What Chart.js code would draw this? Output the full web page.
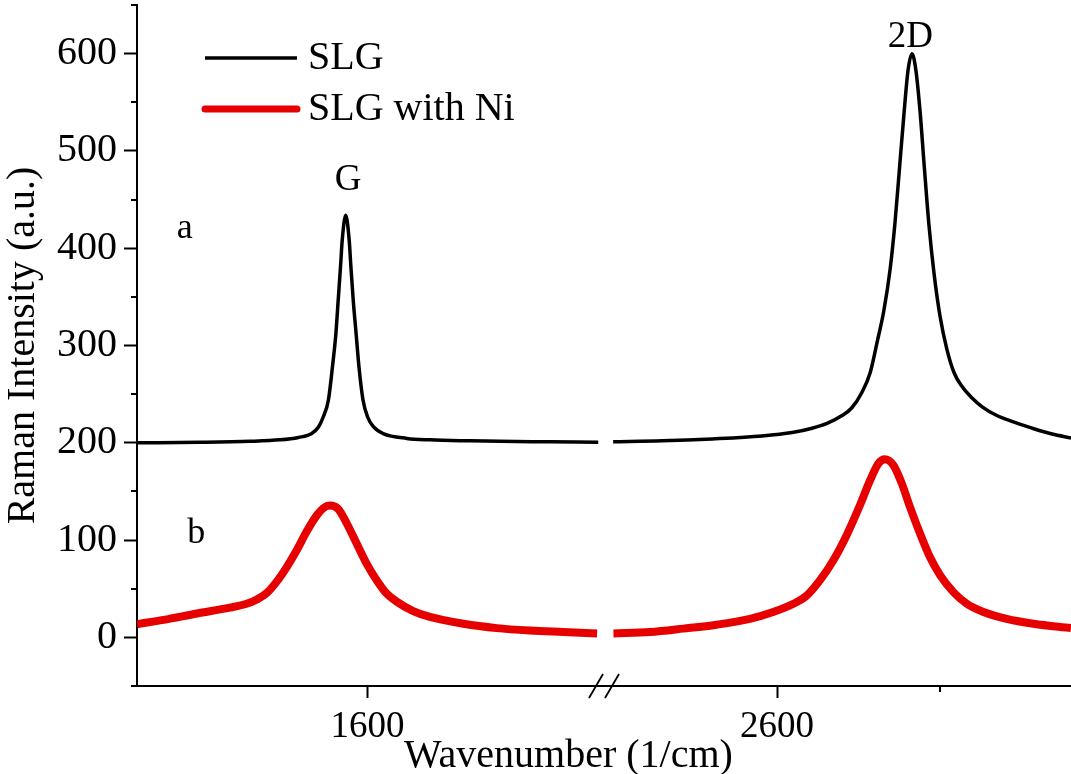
<!DOCTYPE html>
<html><head><meta charset="utf-8">
<script src="https://cdn.jsdelivr.net/npm/chart.js@4.4.1/dist/chart.umd.min.js"></script>
<style>html,body{margin:0;padding:0;background:#fff}#wrap{width:1071px;height:774px;position:relative}</style>
</head><body><div id="wrap"><canvas id="c"></canvas></div>
<script>
// ---- data (wavenumber in 1/cm, intensity in a.u.) ----
const seriesNames = ['SLG', 'SLG with Ni'];

// left part of broken axis (G band)
const slgLeftWn = [1200,1309,1396,1448,1480,1503,1515,1523,1532,1539,1545,1549,1553,1556,1562,1568,1571,1575,1580,1585,1592,1600,1610,1627,1668,1708,1778,1830,1916,2000];
const slgLeftI  = [200,200.5,201.5,203,205.5,209.5,216.5,226.5,244,278,312.5,347,381,408.5,434,408.5,381,347,312.5,278,244,226.5,216.5,209.5,204.5,203,202,201.5,201,200.5];
const niLeftWn  = [1200,1246,1304,1361,1390,1408,1425,1442,1460,1477,1494,1512,1526,1535,1549,1564,1581,1598,1616,1633,1651,1679,1708,1766,1824,1882,1939,1998];
const niLeftI   = [13.5,18,24.5,30.5,34.5,39,45.5,57,72.5,89.5,108.5,125.5,134,135.5,132,117,96.5,76,58.5,45,36.5,27,21,14,9.5,7,5.5,4];

// right part of broken axis (2D band)
const slgRightWn = [2098,2248,2401,2554,2646,2707,2753,2799,2829,2860,2885,2906,2927,2946,2961,2976,2989,3001,3013,3025,3038,3050,3065,3081,3099,3120,3142,3166,3197,3228,3273,3319,3381,3442,3500];
const slgRightI  = [201,202,204,207,210.5,215,220,228,236,252,272,303,336,378,426,487,540,583,600,583,540,487,424,373,330,296,272,258,246,237,228,222,215,209,205];
const niRightWn  = [2099,2211,2313,2415,2517,2588,2650,2691,2731,2772,2813,2854,2885,2910,2930,2956,2982,3007,3038,3068,3099,3140,3181,3232,3303,3385,3500];
const niRightI   = [4,5.5,9,13,19,26,34.5,43,58.5,79,105,136,161.5,178.5,183,177,158,134,106.5,82.5,64,46.5,34.5,26,19,14,9.5];

// axes
const xLeftRange = [1200, 2010];
const xRightRange = [2070, 3500];
const xLeftTicks = [1600];
const xRightTicks = [2600];
const xRightMinor = [3100];
const yRange = [-50, 650];
const yTicks = [0, 100, 200, 300, 400, 500, 600];
const yMinor = [-50, 50, 150, 250, 350, 450, 550, 650];

// peak / curve annotations
const noteText = ['G', '2D', 'a', 'b'];
const noteAxis = ['xL', 'xR', 'xL', 'xL'];
const noteWn   = [1566, 3008, 1269, 1287];
const noteI    = [460, 607, 410.5, 96.5];

const FONT = "'Liberation Serif', 'Times New Roman', serif";
const BLACK = '#000000';
const RED = '#e60000';

const pts = (xs, ys) => xs.map((x, i) => ({x, y: ys[i]}));

const decor = {
  id: 'decor',
  afterDraw(chart) {
    const ctx = chart.ctx;
    const {xL, xR, y} = chart.scales;
    const area = chart.chartArea;
    ctx.save();
    ctx.strokeStyle = BLACK;
    ctx.lineWidth = 2;
    // minor ticks
    yMinor.forEach(v => {
      const py = Math.round(y.getPixelForValue(v));
      ctx.beginPath(); ctx.moveTo(area.left - 6, py); ctx.lineTo(area.left, py); ctx.stroke();
    });
    xRightMinor.forEach(v => {
      const px = Math.round(xR.getPixelForValue(v));
      ctx.beginPath(); ctx.moveTo(px, area.bottom); ctx.lineTo(px, area.bottom + 6); ctx.stroke();
    });
    // axis break marks
    const bx = xL.right, by = area.bottom;
    ctx.lineWidth = 1.8;
    [-8, 8].forEach(off => {
      ctx.beginPath(); ctx.moveTo(bx + off - 7, by + 12); ctx.lineTo(bx + off + 7, by - 12); ctx.stroke();
    });
    // annotations
    ctx.fillStyle = BLACK;
    ctx.textBaseline = 'alphabetic';
    noteText.forEach((t, i) => {
      const sc = chart.scales[noteAxis[i]];
      const px = sc.getPixelForValue(noteWn[i]);
      const py = y.getPixelForValue(noteI[i]);
      ctx.font = (i < 2 ? '37px ' : '36px ') + FONT;
      ctx.textAlign = i < 2 ? 'center' : 'left';
      ctx.fillText(t, px, py);
    });
    // legend
    const seen = [];
    chart.data.datasets.forEach(ds => { if (!seen.find(s => s.label === ds.label)) seen.push(ds); });
    ctx.font = '40px ' + FONT;
    ctx.textAlign = 'left';
    ctx.textBaseline = 'middle';
    seen.forEach((ds, i) => {
      const ly = area.top + 53 + i * 51;
      ctx.strokeStyle = ds.borderColor;
      ctx.lineWidth = i === 0 ? 3.5 : 7;
      ctx.lineCap = i === 0 ? 'butt' : 'round';
      ctx.beginPath(); ctx.moveTo(area.left + 68, ly); ctx.lineTo(area.left + 160, ly); ctx.stroke();
      ctx.fillStyle = BLACK;
      ctx.fillText(ds.label, area.left + 171, ly);
    });
    // x-axis title
    ctx.font = '40px ' + FONT;
    ctx.textBaseline = 'alphabetic';
    ctx.textAlign = 'left';
    ctx.fillText('Wavenumber (1/cm)', 404, 767);
    ctx.restore();
  }
};

const xCommon = (range, ticks) => ({
  type: 'linear',
  position: 'bottom',
  stack: 'wn',
  stackWeight: 1,
  min: range[0], max: range[1],
  afterBuildTicks: s => { s.ticks = ticks.map(v => ({value: v})); },
  afterFit: s => { s.height = 88; s.paddingLeft = 0; s.paddingRight = 0; },
  grid: {drawOnChartArea: false, drawTicks: true, tickLength: 12, tickWidth: 2, tickColor: BLACK},
  border: {display: true, color: BLACK, width: 2},
  ticks: {autoSkip: false, maxRotation: 0, padding: 7, color: BLACK,
          font: {family: FONT, size: 37}, callback: v => String(v)}
});

const lineDs = (label, data, axis, color, width) => ({
  label, data, xAxisID: axis, yAxisID: 'y',
  borderColor: color, backgroundColor: color, borderWidth: width,
  pointRadius: 0, fill: false, cubicInterpolationMode: 'monotone',
  borderJoinStyle: 'round'
});

new Chart(document.getElementById('c'), {
  type: 'line',
  data: {
    datasets: [
      lineDs(seriesNames[0], pts(slgLeftWn, slgLeftI), 'xL', BLACK, 3.5),
      lineDs(seriesNames[1], pts(niLeftWn, niLeftI), 'xL', RED, 8),
      lineDs(seriesNames[0], pts(slgRightWn, slgRightI), 'xR', BLACK, 3.5),
      lineDs(seriesNames[1], pts(niRightWn, niRightI), 'xR', RED, 8)
    ]
  },
  options: {
    responsive: true,
    maintainAspectRatio: false,
    animation: false,
    layout: {padding: {top: 5, left: 0, right: 0, bottom: 0}},
    plugins: {legend: {display: false}, tooltip: {enabled: false}},
    scales: {
      xL: xCommon(xLeftRange, xLeftTicks),
      xR: xCommon(xRightRange, xRightTicks),
      y: {
        type: 'linear', position: 'left',
        min: yRange[0], max: yRange[1],
        afterBuildTicks: s => { s.ticks = yTicks.map(v => ({value: v})); },
        afterFit: s => { s.width = 137; s.paddingTop = 0; s.paddingBottom = 0; },
        grid: {drawOnChartArea: false, drawTicks: true, tickLength: 13, tickWidth: 2, tickColor: BLACK},
        border: {display: true, color: BLACK, width: 2},
        ticks: {padding: 7, color: BLACK, font: {family: FONT, size: 40}, callback: v => String(v)},
        title: {display: true, text: 'Raman Intensity (a.u.)', color: BLACK,
                font: {family: FONT, size: 40, lineHeight: 1}, padding: {top: 3, bottom: 0}}
      }
    }
  },
  plugins: [decor]
});
</script>
</body></html>
